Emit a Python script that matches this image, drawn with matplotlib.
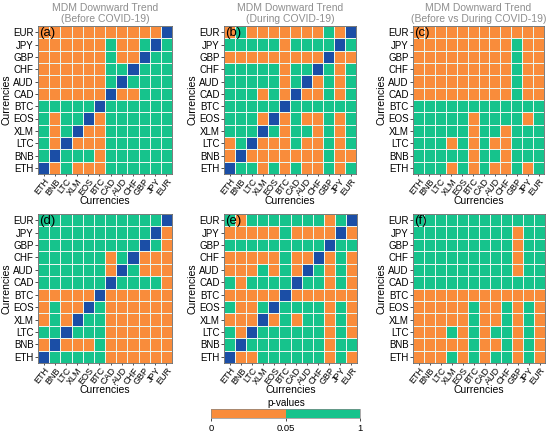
import numpy as np
import matplotlib
matplotlib.use('Agg')
import matplotlib.pyplot as plt
from matplotlib.colors import ListedColormap, BoundaryNorm
from matplotlib.cm import ScalarMappable

plt.rcParams['font.family'] = ['Liberation Sans', 'DejaVu Sans']

# currencies on both axes (left to right / bottom to top)
currencies = ['ETH', 'BNB', 'LTC', 'XLM', 'EOS', 'BTC', 'CAD', 'AUD', 'CHF', 'GBP', 'JPY', 'EUR']

# test results, rows written top (EUR) to bottom (ETH)
# 'o' = p < 0.05, 'g' = p >= 0.05, 'x' = diagonal (self pair)
panel_a = ['ooooooooooox',
           'oooooogoogxg',
           'oooooogooxgg',
           'ooooooggxggg',
           'oooooogxgggg',
           'ooooooxooggg',
           'gggggxgggggg',
           'goggxogggggg',
           'gogxoogggggg',
           'goxooogggggg',
           'gxgggogggggg',
           'xogooogggggg']
panel_b = ['ogooooooogox',
           'gggggoggggxg',
           'oooooooooxoo',
           'gggggoggxgog',
           'gggggogxogog',
           'gggogoxoogog',
           'gggggxgggggg',
           'gggoxogoogog',
           'gggxgoggogog',
           'ogxooogoogog',
           'oxooooooogoo',
           'xggogogoogog']
panel_c = ['oooooooooooo',
           'ooooooooogoo',
           'ooooooooogoo',
           'ooooooooogoo',
           'ooooooooogoo',
           'ooooooooogoo',
           'gggggggggggg',
           'gggggoggggog',
           'gggggoggoggg',
           'gggogogooggg',
           'gggggoggoggg',
           'gggogogoogog']
panel_d = ['gggggggggggx',
           'ggggggggggxo',
           'gggggggggxgo',
           'ggggggogxooo',
           'ggggggoxgooo',
           'ggggggxggggo',
           'oooooxoooooo',
           'ogooxgoooooo',
           'ogoxggoooooo',
           'ggxgggoooooo',
           'oxooogoooooo',
           'xgggggoooooo']
panel_e = ['gogggggggogx',
           'ooooogooooxo',
           'gggggggggxgg',
           'ooooogooxogo',
           'ooogogoxgogo',
           'goggggxggogo',
           'oooooxoooooo',
           'googxggggogo',
           'oooxogoggogo',
           'goxggggggogo',
           'gxgggggggogg',
           'xooggggggogo']
panel_f = ['gggggggggggg',
           'gggggggggogg',
           'gggggggggogg',
           'gggggggggogg',
           'gggggggggogg',
           'gggggggggggg',
           'oooooooooooo',
           'ooooogoogogo',
           'ooooogoogogo',
           'ooogogoggogo',
           'ooooogoogogo',
           'ooogogoggogo']

panel_tags = ['(a)', '(b)', '(c)', '(d)', '(e)', '(f)']
panel_titles = ['MDM Downward Trend\n(Before COVID-19)',
                'MDM Downward Trend\n(During COVID-19)',
                'MDM Downward Trend\n(Before vs During COVID-19)',
                '', '', '']
pvalue_bounds = [0, 0.05, 1]
pvalue_ticks = ['0', '0.05', '1']

# colours
orange = '#F98C3B'
green = '#16C38C'
blue = '#1B4EA6'
title_color = '#8E8E8E'


def to_matrix(rows):
    # 1 = significant (orange), 0 = not significant (green), nan = diagonal
    m = np.zeros((len(rows), 12))
    for i, r in enumerate(rows):
        for j, ch in enumerate(r[:12]):
            m[i, j] = {'o': 1.0, 'g': 0.0, 'x': np.nan}[ch]
    return m[::-1]  # flip so ETH is the bottom row


cmap = ListedColormap([green, orange])
cmap.set_bad(blue)

fig = plt.figure(figsize=(5.5, 4.34), dpi=100)

# axes boxes in pixels: left, top, right, bottom
boxes = [(38, 26, 172, 174), (224, 26, 356, 174), (413, 26, 544, 174),
         (38, 214, 172, 363), (224, 214, 357, 363), (413, 214, 545, 363)]
W, H = 550, 434
panels = [panel_a, panel_b, panel_c, panel_d, panel_e, panel_f]

for rows, tag, title, (l, t, r, b) in zip(panels, panel_tags, panel_titles, boxes):
    ax = fig.add_axes([l / W, (H - b) / H, (r - l) / W, (b - t) / H])
    data = np.ma.masked_invalid(to_matrix(rows))
    ax.pcolormesh(data, cmap=cmap, vmin=0, vmax=1, edgecolors='#e8f6ef', linewidth=0.6)
    ax.set_xlim(0, 12)
    ax.set_ylim(0, 12)
    ax.set_xticks(np.arange(12) + 0.5)
    ax.set_yticks(np.arange(12) + 0.5)
    ax.set_xticklabels(currencies, rotation=52, ha='right', rotation_mode='anchor', fontsize=6.5)
    ax.set_yticklabels(currencies, fontsize=7)
    ax.tick_params(length=2, width=0.6, pad=1, colors='#333333', labelcolor='black')
    ax.tick_params(axis='x', length=1.5, pad=0.5)
    ax.set_xlabel('Currencies', fontsize=7.5)
    ax.xaxis.label.set_va('center')
    ax.xaxis.set_label_coords(0.5, -27 / (b - t))
    ax.set_ylabel('Currencies', fontsize=7.5, labelpad=1)
    for s in ax.spines.values():
        s.set_color('#666666')
        s.set_linewidth(0.6)
    ax.text(0.01, 0.995, tag, transform=ax.transAxes, fontsize=9.5, va='top', ha='left')
    if title:
        ax.set_title(title, fontsize=7.5, color=title_color, pad=3, linespacing=1.15)

# colour legend for p-values
cax = fig.add_axes([211 / W, (H - 418) / H, 149 / W, 9 / H])
norm = BoundaryNorm(pvalue_bounds, 2)
cb = fig.colorbar(ScalarMappable(norm=norm, cmap=ListedColormap([orange, green])),
                  cax=cax, orientation='horizontal', spacing='uniform')
cb.set_ticks(pvalue_bounds)
cb.set_ticklabels(pvalue_ticks)
cb.ax.tick_params(labelsize=6.8, length=2, width=0.5, pad=2)
cb.outline.set_linewidth(0.5)
cb.outline.set_edgecolor('#888888')
fig.text(286 / W, (H - 403) / H, 'p-values', ha='center', va='center', fontsize=7.2)

fig.savefig('out.png', dpi=100)
